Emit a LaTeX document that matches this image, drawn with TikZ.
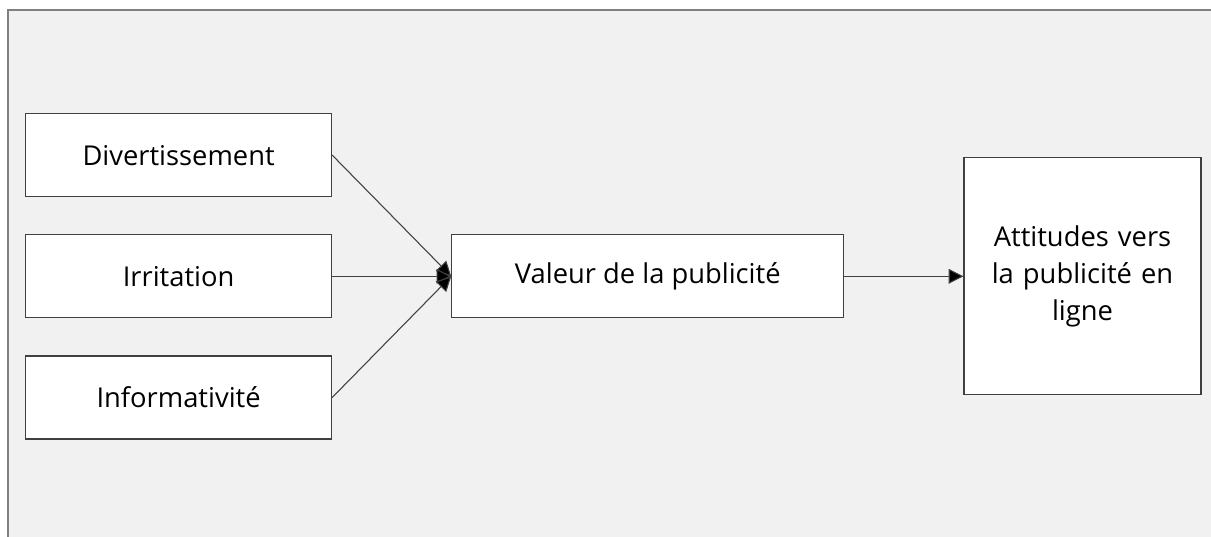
\documentclass[tikz,border=0pt]{standalone}
\usepackage{fontspec}
\setmainfont{Open Sans}
\usetikzlibrary{positioning,arrows.meta}

\definecolor{panel}{HTML}{F1F1F1}
\definecolor{edge}{HTML}{404040}

\begin{document}
\begin{tikzpicture}[
  x=0.75pt, y=-0.75pt,
  node distance=27.75pt and 89.25pt,
  factor/.style={draw=edge, line width=0.9pt, fill=white, minimum width=229.5pt, minimum height=62.25pt, inner sep=0pt, font=\fontsize{20.5}{24}\selectfont},
  target/.style={draw=edge, line width=0.9pt, fill=white, minimum width=177.75pt, minimum height=177.75pt, inner sep=0pt, text width=170pt, align=center, font=\fontsize{20.5}{28}\selectfont},
  link/.style={draw=edge, line width=0.8pt, -{Triangle[length=11pt, width=11pt, fill=black]}}
]
\useasboundingbox (0,0) rectangle (1211,536);
\fill[white] (0,0) rectangle (1211,536);
\fill[panel] (8,10) rectangle (1215,540);
\draw[gray, line width=0.9pt] (8,540) -- (8,10) -- (1215,10);

% Left column: the three factors
\node[factor, anchor=north west] (div) at (25,113) {Divertissement};
\node[factor, below=of div] (irr) {Irritation};
\node[factor, below=of irr] (info) {Informativité};

% Middle and right boxes
\node[factor, minimum width=294pt, right=of irr] (val) {Valeur de la publicité};
\node[target, right=of val] (att) {Attitudes vers\\la publicité en\\ligne};

% Connectors
\draw[link] (div.east) -- (val.west);
\draw[link] (irr.east) -- (val.west);
\draw[link] (info.east) -- (val.west);
\draw[link] (val.east) -- (att.west);
\end{tikzpicture}
\end{document}
